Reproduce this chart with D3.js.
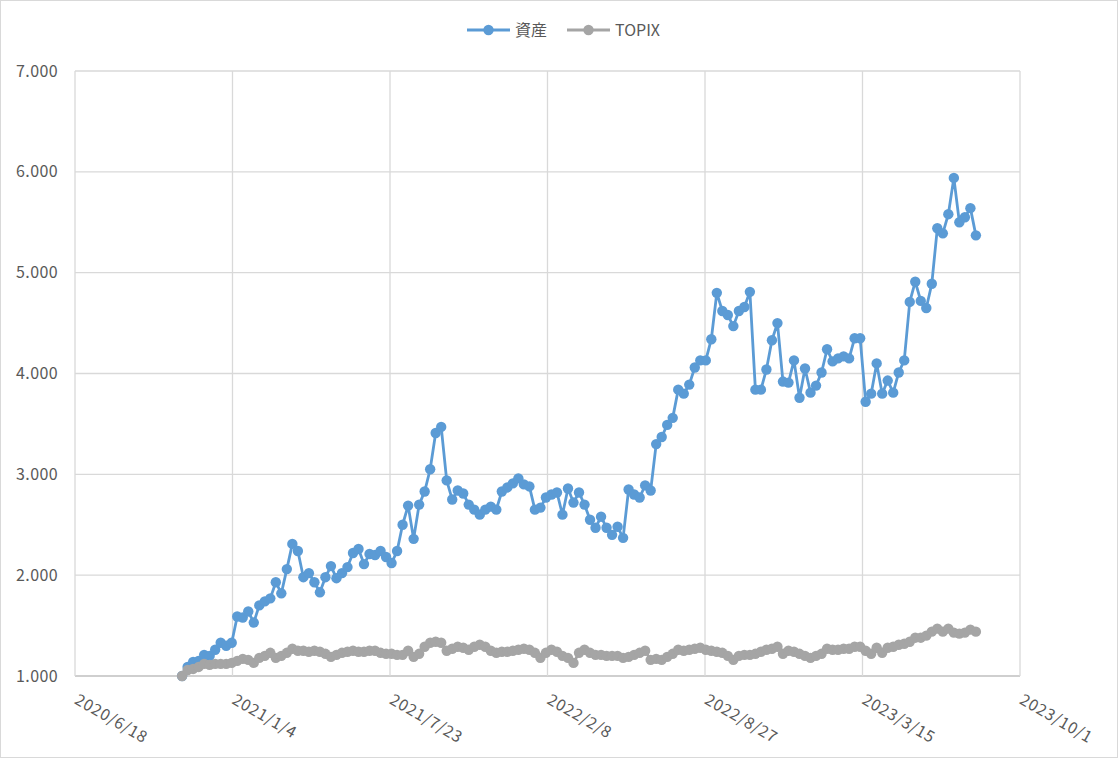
<!DOCTYPE html>
<html><head><meta charset="utf-8">
<script src="https://cdn.jsdelivr.net/npm/d3@7"></script>
<style>
html,body{margin:0;padding:0;background:#fff;}
svg{display:block;}
text{font-family:"Noto Sans CJK JP","Noto Sans",sans-serif;fill:#595959;}
</style></head>
<body>
<svg id="chart" width="1118" height="758"></svg>
<script>
const dates = [
"2020/11/1","2020/11/8","2020/11/15","2020/11/22","2020/11/29","2020/12/6","2020/12/13","2020/12/20","2020/12/27",
"2021/1/3","2021/1/10","2021/1/17","2021/1/24","2021/1/31","2021/2/7","2021/2/14","2021/2/21","2021/2/28","2021/3/7","2021/3/14","2021/3/21","2021/3/28","2021/4/4","2021/4/11","2021/4/18","2021/4/25","2021/5/2","2021/5/9","2021/5/16","2021/5/23","2021/5/30","2021/6/6","2021/6/13","2021/6/20","2021/6/27","2021/7/4","2021/7/11","2021/7/18","2021/7/25","2021/8/1","2021/8/8","2021/8/15","2021/8/22","2021/8/29","2021/9/5","2021/9/12","2021/9/19","2021/9/26","2021/10/3","2021/10/10","2021/10/17","2021/10/24","2021/10/31","2021/11/7","2021/11/14","2021/11/21","2021/11/28","2021/12/5","2021/12/12","2021/12/19","2021/12/26",
"2022/1/2","2022/1/9","2022/1/16","2022/1/23","2022/1/30","2022/2/6","2022/2/13","2022/2/20","2022/2/27","2022/3/6","2022/3/13","2022/3/20","2022/3/27","2022/4/3","2022/4/10","2022/4/17","2022/4/24","2022/5/1","2022/5/8","2022/5/15","2022/5/22","2022/5/29","2022/6/5","2022/6/12","2022/6/19","2022/6/26","2022/7/3","2022/7/10","2022/7/17","2022/7/24","2022/7/31","2022/8/7","2022/8/14","2022/8/21","2022/8/28","2022/9/4","2022/9/11","2022/9/18","2022/9/25","2022/10/2","2022/10/9","2022/10/16","2022/10/23","2022/10/30","2022/11/6","2022/11/13","2022/11/20","2022/11/27","2022/12/4","2022/12/11","2022/12/18","2022/12/25",
"2023/1/1","2023/1/8","2023/1/15","2023/1/22","2023/1/29","2023/2/5","2023/2/12","2023/2/19","2023/2/26","2023/3/5","2023/3/12","2023/3/19","2023/3/26","2023/4/2","2023/4/9","2023/4/16","2023/4/23","2023/4/30","2023/5/7","2023/5/14","2023/5/21","2023/5/28","2023/6/4","2023/6/11","2023/6/18","2023/6/25","2023/7/2","2023/7/9","2023/7/16","2023/7/23","2023/7/30","2023/8/6"
];

const assets = [
1.00,1.09,1.14,1.15,1.21,1.20,1.26,1.33,1.30,1.33,
1.59,1.58,1.64,1.53,1.70,1.74,1.77,1.93,1.82,2.06,
2.31,2.24,1.98,2.02,1.93,1.83,1.98,2.09,1.97,2.02,
2.08,2.22,2.26,2.11,2.21,2.20,2.24,2.18,2.12,2.24,
2.50,2.69,2.36,2.70,2.83,3.05,3.41,3.47,2.94,2.75,
2.84,2.81,2.70,2.65,2.60,2.65,2.68,2.65,2.83,2.87,
2.91,2.96,2.90,2.88,2.65,2.67,2.77,2.80,2.82,2.60,
2.86,2.72,2.82,2.70,2.55,2.47,2.58,2.47,2.40,2.48,
2.37,2.85,2.80,2.77,2.89,2.84,3.30,3.37,3.49,3.56,
3.84,3.80,3.89,4.06,4.13,4.13,4.34,4.80,4.62,4.58,
4.47,4.62,4.66,4.81,3.84,3.84,4.04,4.33,4.50,3.92,
3.91,4.13,3.76,4.05,3.81,3.88,4.01,4.24,4.12,4.15,
4.17,4.15,4.35,4.35,3.72,3.80,4.10,3.80,3.93,3.81,
4.01,4.13,4.71,4.91,4.72,4.65,4.89,5.44,5.39,5.58,
5.94,5.50,5.55,5.64,5.37
];

const topix = [
1.00,1.06,1.07,1.09,1.12,1.11,1.12,1.12,1.12,1.13,
1.15,1.17,1.16,1.13,1.18,1.20,1.23,1.18,1.20,1.23,
1.27,1.25,1.25,1.24,1.25,1.24,1.22,1.19,1.21,1.23,
1.24,1.25,1.24,1.24,1.25,1.25,1.23,1.22,1.22,1.21,
1.21,1.25,1.19,1.22,1.29,1.33,1.34,1.33,1.25,1.27,
1.29,1.28,1.26,1.29,1.31,1.29,1.25,1.23,1.24,1.24,
1.25,1.26,1.27,1.26,1.23,1.18,1.23,1.26,1.24,1.20,
1.18,1.13,1.23,1.26,1.23,1.21,1.21,1.20,1.20,1.20,
1.18,1.19,1.21,1.23,1.25,1.16,1.17,1.16,1.19,1.22,
1.26,1.25,1.26,1.27,1.28,1.26,1.25,1.24,1.23,1.20,
1.16,1.20,1.21,1.21,1.22,1.24,1.26,1.27,1.29,1.22,
1.25,1.24,1.22,1.20,1.18,1.20,1.22,1.27,1.26,1.26,
1.27,1.27,1.29,1.29,1.25,1.22,1.28,1.23,1.28,1.29,
1.31,1.32,1.34,1.38,1.38,1.40,1.44,1.47,1.44,1.47,
1.43,1.42,1.43,1.46,1.44
];

const xTickLabels = ["2020/6/18","2021/1/4","2021/7/23","2022/2/8","2022/8/27","2023/3/15","2023/10/1"];
const yTicks = [1,2,3,4,5,6,7];
const seriesNames = ["資産","TOPIX"];
const colors = ["#5B9BD5","#A5A5A5"];

const parse = d3.timeParse("%Y/%m/%d");
const W = 1118, H = 758;
const m = {left:75, right:98, top:71, bottom:82};
const svg = d3.select("#chart");
const FONT = '"Noto Sans CJK JP","Noto Sans",sans-serif';

svg.append("rect").attr("x",0.5).attr("y",0.5).attr("width",W-1).attr("height",H-1)
  .attr("fill","#fff").attr("stroke","#d9d9d9");

const tickDates = xTickLabels.map(parse);
const x = d3.scaleTime().domain([tickDates[0], tickDates[tickDates.length-1]]).range([m.left, W-m.right]);
const y = d3.scaleLinear().domain([1,7]).range([H-m.bottom, m.top]);

// horizontal grid
svg.append("g").selectAll("line").data(yTicks).join("line")
  .attr("x1",m.left).attr("x2",W-m.right)
  .attr("y1",d=>y(d)).attr("y2",d=>y(d))
  .attr("stroke",d=>d===1?"#bfbfbf":"#d9d9d9").attr("stroke-width",1.3);
// vertical grid
svg.append("g").selectAll("line").data(tickDates).join("line")
  .attr("x1",d=>x(d)).attr("x2",d=>x(d))
  .attr("y1",m.top).attr("y2",H-m.bottom)
  .attr("stroke","#d9d9d9").attr("stroke-width",1.3);

// y labels
const yAxis = d3.axisLeft(y).tickValues(yTicks).tickSize(0).tickPadding(17).tickFormat(d=>d3.format(".3f")(d));
const gy = svg.append("g").attr("transform",`translate(${m.left},0)`).call(yAxis);
gy.select(".domain").remove();
gy.selectAll("text").style("font-size","16px").style("letter-spacing","0.4px").attr("fill","#595959").style("font-family",FONT);

// x labels
const xAxis = d3.axisBottom(x).tickValues(tickDates).tickSize(0).tickFormat((d,i)=>xTickLabels[i]);
const gx = svg.append("g").attr("transform",`translate(0,${H-m.bottom})`).call(xAxis);
gx.select(".domain").remove();
gx.selectAll("text").style("font-size","16px").style("letter-spacing","0.7px").attr("fill","#595959").style("font-family",FONT)
  .attr("text-anchor","start").attr("dy",null).attr("y",null)
  .attr("transform","translate(-2,27) rotate(30)");

const seriesData = [assets, topix];
seriesData.forEach((vals,si)=>{
  const pts = vals.map((v,i)=>({d:parse(dates[i]), v}));
  const line = d3.line().x(p=>x(p.d)).y(p=>y(p.v));
  const g = svg.append("g");
  g.append("path").datum(pts).attr("d",line).attr("fill","none")
    .attr("stroke",colors[si]).attr("stroke-width",2.8).attr("stroke-linejoin","round");
  g.selectAll("circle").data(pts).join("circle")
    .attr("cx",p=>x(p.d)).attr("cy",p=>y(p.v)).attr("r",5.2).attr("fill",colors[si]);
});

// legend
const legend = svg.append("g");
const legItems = [{x:467, name:seriesNames[0], c:colors[0]},{x:567, name:seriesNames[1], c:colors[1]}];
legItems.forEach(it=>{
  legend.append("line").attr("x1",it.x).attr("x2",it.x+43).attr("y1",30).attr("y2",30)
    .attr("stroke",it.c).attr("stroke-width",2.8);
  legend.append("circle").attr("cx",it.x+21.5).attr("cy",30).attr("r",5.2).attr("fill",it.c);
  legend.append("text").attr("x",it.x+48).attr("y",30).attr("dy","0.35em")
    .style("font-size","16px").text(it.name);
});
</script>
</body></html>
